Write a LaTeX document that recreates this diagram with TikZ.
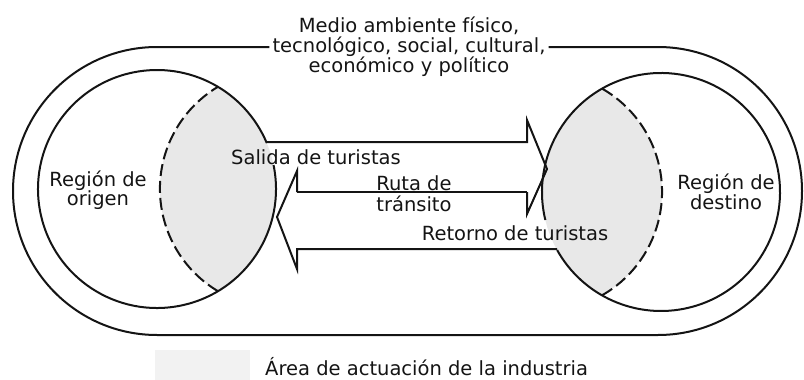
\documentclass[tikz,border=0pt]{standalone}
\usepackage{fontspec}
\setmainfont{DejaVu Sans}
\usetikzlibrary{positioning}
\definecolor{ink}{HTML}{141414}
\definecolor{lens}{HTML}{E8E8E8}
\definecolor{swatch}{HTML}{F2F2F2}
\tikzset{edge/.style={draw=ink,line width=2pt,line join=miter},
  rimline/.style={draw=ink,line width=2pt,dash pattern=on 12pt off 5pt},
  lbl/.style={font=\fontsize{19.5}{19.5}\selectfont,align=center,inner sep=0pt,text=ink}}
\begin{document}
\begin{tikzpicture}[x=1pt,y=-1pt]
\useasboundingbox (0,0) rectangle (804,380);
\coordinate (ori) at (157,189);
\coordinate (des) at (661,192);
% shaded parts of the two regions
\begin{scope}
 \clip (ori) circle (119);
 \fill[lens] (279,189) circle (119);
\end{scope}
\begin{scope}
 \clip (des) circle (119);
 \fill[lens] (543,192) circle (119);
\end{scope}
\fill[swatch] (155,350) rectangle (250,380);
% texts
\node[lbl,inner xsep=3pt] (env) at (409,47) {Medio ambiente físico,\\tecnológico, social, cultural,\\económico y político};
\node[lbl] (orig) at (98,190) {Región de\\origen};
\node[lbl] (dest) at (726,192) {Región de\\destino};
\node[lbl] (sal) at (316,157) {Salida de turistas};
\node[lbl,font=\fontsize{19.5}{21}\selectfont] (ruta) at (414,194) {Ruta de\\tránsito};
\node[lbl] (ret) at (515,233) {Retorno de turistas};
\node[lbl,anchor=west] (area) at (265,367) {Área de actuación de la industria};
% outer boundary
\draw[edge] (env.west) -- (157,47) arc[start angle=-90,end angle=-270,radius=144]
  -- (658,335) arc[start angle=90,end angle=-90,radius=144] -- (env.east);
% regions
\draw[edge] (ori) ++(-11.6:119) arc[start angle=-11.6,end angle=337.3,radius=119];
\draw[edge] (des) ++(166.4:119) arc[start angle=166.4,end angle=510.8,radius=119];
\draw[rimline] (218,291.2) arc[start angle=120.8,end angle=239.2,radius=119];
\draw[rimline] (602,295.3) arc[start angle=60.3,end angle=-60.3,radius=119];
% flows
\draw[edge] (266.3,142) -- (527,142) -- (527,120) -- (547,169) -- (527,214) -- (527,192);
\draw[edge,line width=2.6pt] (297,192) -- (527,192);
\draw[edge] (297,192) -- (297,171) -- (277,217) -- (297,269) -- (297,249) -- (557,249);
\end{tikzpicture}
\end{document}
